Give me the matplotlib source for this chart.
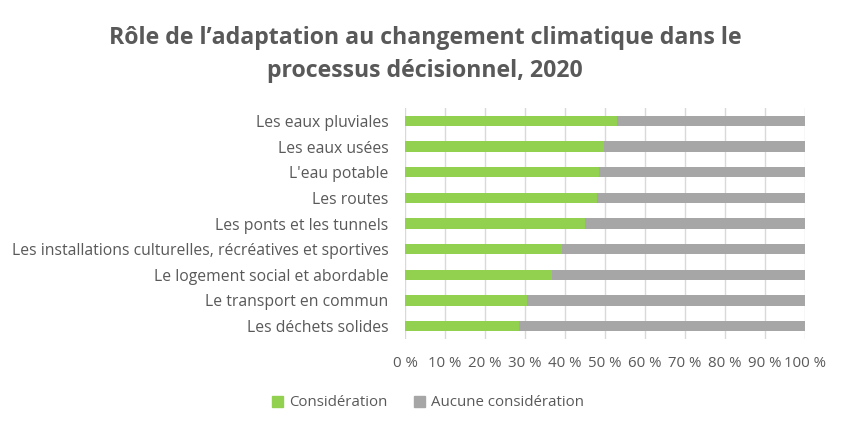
import matplotlib
matplotlib.use("Agg")
import matplotlib.pyplot as plt
from matplotlib.ticker import FuncFormatter, MultipleLocator
from matplotlib.patches import Patch

plt.rcParams['font.family'] = ['Open Sans', 'DejaVu Sans']

categories = [
    "Les eaux pluviales",
    "Les eaux usées",
    "L'eau potable",
    "Les routes",
    "Les ponts et les tunnels",
    "Les installations culturelles, récréatives et sportives",
    "Le logement social et abordable",
    "Le transport en commun",
    "Les déchets solides",
]
consideration = [53.1, 49.8, 48.4, 47.9, 45.1, 39.2, 36.7, 30.4, 28.5]
aucune = [100 - v for v in consideration]

green = "#92D050"
grey = "#A6A6A6"
text_col = "#595959"

fig = plt.figure(figsize=(8.5, 4.32), dpi=100)
ax = fig.add_axes([405/850, 1-339/432, 400/850, 231/432])

y = list(range(len(categories)))
ax.barh(y, consideration, height=0.4, color=green, zorder=3)
ax.barh(y, aucune, left=consideration, height=0.4, color=grey, zorder=3)

ax.set_xlim(0, 100)
ax.set_ylim(len(categories) - 0.5, -0.5)
ax.set_yticks(y)
ax.set_yticklabels(categories, fontsize=11.3, color=text_col)
ax.xaxis.set_major_locator(MultipleLocator(10))
ax.xaxis.set_major_formatter(FuncFormatter(lambda v, p: f"{int(v)} %"))
ax.tick_params(axis='x', labelsize=10.8, colors=text_col, length=0, pad=12)
ax.tick_params(axis='y', length=0, pad=12)
ax.grid(axis='x', color="#D9D9D9", linewidth=1, zorder=0)
for s in ax.spines.values():
    s.set_visible(False)

fig.text(0.5, 1-38/432, "Rôle de l’adaptation au changement climatique dans le",
         ha='center', va='center', fontsize=16.7, fontweight='bold', color=text_col)
fig.text(0.5, 1-71/432, "processus décisionnel, 2020",
         ha='center', va='center', fontsize=16.7, fontweight='bold', color=text_col)

handles = [Patch(color=green, label="Considération"), Patch(color=grey, label="Aucune considération")]
fig.legend(handles=handles, loc='center', bbox_to_anchor=(428/850, 1-403/432), ncol=2,
           frameon=False, fontsize=10.8, labelcolor=text_col, handlelength=0.7, handleheight=0.7,
           handletextpad=0.4, columnspacing=1.8)

fig.savefig("out.png", dpi=100)
